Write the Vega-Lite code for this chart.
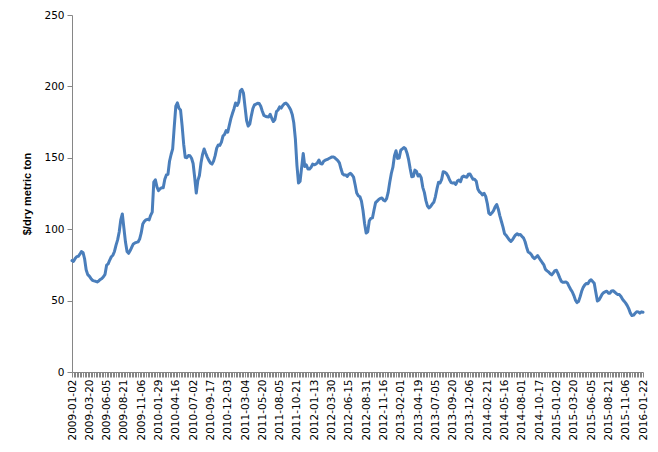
{
  "$schema": "https://vega.github.io/schema/vega-lite/v6.json",
  "autosize": "none",
  "width": 571,
  "height": 357,
  "padding": {"left": 72, "top": 15, "right": 15, "bottom": 80},
  "background": "white",
  "config": {"view": {"stroke": null}},
  "data": {"values": [
    {"d":"2009-01-02","v":78},{"d":"2009-01-09","v":77.5},{"d":"2009-01-16","v":79.5},{"d":"2009-01-23","v":80.8},{"d":"2009-01-30","v":81},
    {"d":"2009-02-06","v":82.5},{"d":"2009-02-13","v":84.3},{"d":"2009-02-20","v":83.7},{"d":"2009-02-27","v":79.3},{"d":"2009-03-06","v":71.6},
    {"d":"2009-03-13","v":68.2},{"d":"2009-03-20","v":67.1},{"d":"2009-03-27","v":65.5},{"d":"2009-04-03","v":64.2},{"d":"2009-04-10","v":63.8},
    {"d":"2009-04-17","v":63.5},{"d":"2009-04-24","v":63.1},{"d":"2009-05-01","v":63.8},{"d":"2009-05-08","v":64.8},{"d":"2009-05-15","v":65.5},
    {"d":"2009-05-22","v":66.7},{"d":"2009-05-29","v":68.4},{"d":"2009-06-05","v":74.8},{"d":"2009-06-12","v":75.7},{"d":"2009-06-19","v":78.4},
    {"d":"2009-06-26","v":80.7},{"d":"2009-07-03","v":81.8},{"d":"2009-07-10","v":84.4},{"d":"2009-07-17","v":88.8},{"d":"2009-07-24","v":92.5},
    {"d":"2009-07-31","v":98},{"d":"2009-08-07","v":106.5},{"d":"2009-08-14","v":110.7},{"d":"2009-08-21","v":100.7},{"d":"2009-08-28","v":91},
    {"d":"2009-09-04","v":84.4},{"d":"2009-09-11","v":83.1},{"d":"2009-09-18","v":85},{"d":"2009-09-25","v":87.4},{"d":"2009-10-02","v":89.7},
    {"d":"2009-10-09","v":90.4},{"d":"2009-10-16","v":90.8},{"d":"2009-10-23","v":91.1},{"d":"2009-10-30","v":93.1},{"d":"2009-11-06","v":97.4},
    {"d":"2009-11-13","v":103.7},{"d":"2009-11-20","v":105.5},{"d":"2009-11-27","v":106.5},{"d":"2009-12-04","v":106.9},{"d":"2009-12-11","v":106.5},
    {"d":"2009-12-18","v":109.7},{"d":"2009-12-25","v":112},{"d":"2010-01-08","v":133},{"d":"2010-01-15","v":134.6},{"d":"2010-01-22","v":129.6},
    {"d":"2010-01-29","v":127},{"d":"2010-02-05","v":128.3},{"d":"2010-02-12","v":129},{"d":"2010-02-19","v":129},{"d":"2010-02-26","v":135},
    {"d":"2010-03-05","v":138},{"d":"2010-03-12","v":138.4},{"d":"2010-03-19","v":147.6},{"d":"2010-03-26","v":152.3},{"d":"2010-04-02","v":156.3},
    {"d":"2010-04-09","v":171.7},{"d":"2010-04-16","v":186.2},{"d":"2010-04-23","v":188.5},{"d":"2010-04-30","v":184.7},{"d":"2010-05-07","v":183.5},
    {"d":"2010-05-14","v":172.6},{"d":"2010-05-21","v":159.5},{"d":"2010-05-28","v":150.3},{"d":"2010-06-04","v":150.1},{"d":"2010-06-11","v":151.6},
    {"d":"2010-06-18","v":151.4},{"d":"2010-06-25","v":149.7},{"d":"2010-07-02","v":146},{"d":"2010-07-09","v":136.2},{"d":"2010-07-16","v":125.3},
    {"d":"2010-07-23","v":134},{"d":"2010-07-30","v":137.6},{"d":"2010-08-06","v":146.4},{"d":"2010-08-13","v":152.4},{"d":"2010-08-20","v":156.2},
    {"d":"2010-08-27","v":153.2},{"d":"2010-09-03","v":150.5},{"d":"2010-09-10","v":148.2},{"d":"2010-09-17","v":146.4},{"d":"2010-09-24","v":145.6},
    {"d":"2010-10-01","v":147.7},{"d":"2010-10-08","v":151.5},{"d":"2010-10-15","v":156.8},{"d":"2010-10-22","v":159},{"d":"2010-10-29","v":158.7},
    {"d":"2010-11-05","v":161},{"d":"2010-11-12","v":165.3},{"d":"2010-11-19","v":166.4},{"d":"2010-11-26","v":169.1},{"d":"2010-12-03","v":167.9},
    {"d":"2010-12-10","v":172.7},{"d":"2010-12-17","v":177.4},{"d":"2011-01-07","v":181},{"d":"2011-01-14","v":184.4},{"d":"2011-01-21","v":188.4},
    {"d":"2011-01-28","v":186.6},{"d":"2011-02-04","v":189},{"d":"2011-02-11","v":196.8},{"d":"2011-02-18","v":198},{"d":"2011-02-25","v":195.4},
    {"d":"2011-03-04","v":185.7},{"d":"2011-03-11","v":176.1},{"d":"2011-03-18","v":172.2},{"d":"2011-03-25","v":173.6},{"d":"2011-04-01","v":179.4},
    {"d":"2011-04-08","v":184.5},{"d":"2011-04-15","v":187.1},{"d":"2011-04-22","v":187.6},{"d":"2011-04-29","v":188.2},{"d":"2011-05-06","v":188},
    {"d":"2011-05-13","v":186.1},{"d":"2011-05-20","v":182.6},{"d":"2011-05-27","v":179.7},{"d":"2011-06-03","v":179.1},{"d":"2011-06-10","v":178.7},
    {"d":"2011-06-17","v":178.6},{"d":"2011-06-24","v":180.4},{"d":"2011-07-01","v":177.7},{"d":"2011-07-08","v":175.4},{"d":"2011-07-15","v":176.8},
    {"d":"2011-07-22","v":182.4},{"d":"2011-07-29","v":183.5},{"d":"2011-08-05","v":185.7},{"d":"2011-08-12","v":184.8},{"d":"2011-08-19","v":186.7},
    {"d":"2011-08-26","v":187.9},{"d":"2011-09-02","v":188.3},{"d":"2011-09-09","v":187.3},{"d":"2011-09-16","v":185.6},{"d":"2011-09-23","v":183.6},
    {"d":"2011-09-30","v":180.4},{"d":"2011-10-07","v":174.5},{"d":"2011-10-14","v":163.2},{"d":"2011-10-21","v":144.7},{"d":"2011-10-28","v":132.3},
    {"d":"2011-11-04","v":133.6},{"d":"2011-11-11","v":143.3},{"d":"2011-11-18","v":153},{"d":"2011-11-25","v":143.9},{"d":"2011-12-02","v":145},
    {"d":"2011-12-09","v":142.1},{"d":"2011-12-16","v":142.1},{"d":"2011-12-23","v":143.4},{"d":"2012-01-06","v":145.6},{"d":"2012-01-13","v":145.1},
    {"d":"2012-01-20","v":145.6},{"d":"2012-01-27","v":146.5},{"d":"2012-02-03","v":148.4},{"d":"2012-02-10","v":145.9},{"d":"2012-02-17","v":145.6},
    {"d":"2012-02-24","v":147.6},{"d":"2012-03-02","v":148.3},{"d":"2012-03-09","v":148.8},{"d":"2012-03-16","v":149.3},{"d":"2012-03-23","v":149.9},
    {"d":"2012-03-30","v":150.5},{"d":"2012-04-06","v":150.6},{"d":"2012-04-13","v":150.1},{"d":"2012-04-20","v":149},{"d":"2012-04-27","v":148},
    {"d":"2012-05-04","v":146.4},{"d":"2012-05-11","v":142.3},{"d":"2012-05-18","v":138.8},{"d":"2012-05-25","v":138},{"d":"2012-06-01","v":138},
    {"d":"2012-06-08","v":136.9},{"d":"2012-06-15","v":138.5},{"d":"2012-06-22","v":139.1},{"d":"2012-06-29","v":138},{"d":"2012-07-06","v":136.5},
    {"d":"2012-07-13","v":131.1},{"d":"2012-07-20","v":125.3},{"d":"2012-07-27","v":123.5},{"d":"2012-08-03","v":122.8},{"d":"2012-08-10","v":119.8},
    {"d":"2012-08-17","v":113.1},{"d":"2012-08-24","v":104},{"d":"2012-08-31","v":97.3},{"d":"2012-09-07","v":98.2},{"d":"2012-09-14","v":105.9},
    {"d":"2012-09-21","v":107.6},{"d":"2012-09-28","v":107.9},{"d":"2012-10-05","v":113.5},{"d":"2012-10-12","v":118.6},{"d":"2012-10-19","v":119.7},
    {"d":"2012-10-26","v":120.8},{"d":"2012-11-02","v":121.6},{"d":"2012-11-09","v":121.9},{"d":"2012-11-16","v":120.3},{"d":"2012-11-23","v":119.8},
    {"d":"2012-11-30","v":121.4},{"d":"2012-12-07","v":125.8},{"d":"2012-12-14","v":132.9},{"d":"2012-12-21","v":139},{"d":"2012-12-28","v":143.4},
    {"d":"2013-01-04","v":151.4},{"d":"2013-01-11","v":154.9},{"d":"2013-01-18","v":149.6},{"d":"2013-01-25","v":149.9},{"d":"2013-02-01","v":155.3},
    {"d":"2013-02-08","v":156.2},{"d":"2013-02-15","v":157.2},{"d":"2013-02-22","v":156.4},{"d":"2013-03-01","v":153.2},{"d":"2013-03-08","v":148.7},
    {"d":"2013-03-15","v":142.3},{"d":"2013-03-22","v":136.7},{"d":"2013-03-29","v":137},{"d":"2013-04-05","v":141.4},{"d":"2013-04-12","v":140.5},
    {"d":"2013-04-19","v":137.2},{"d":"2013-04-26","v":138.2},{"d":"2013-05-03","v":136.1},{"d":"2013-05-10","v":129.3},{"d":"2013-05-17","v":125.8},
    {"d":"2013-05-24","v":120},{"d":"2013-05-31","v":116.2},{"d":"2013-06-07","v":114.9},{"d":"2013-06-14","v":116},{"d":"2013-06-21","v":117.6},
    {"d":"2013-06-28","v":118.8},{"d":"2013-07-05","v":122.7},{"d":"2013-07-12","v":128.2},{"d":"2013-07-19","v":132.8},{"d":"2013-07-26","v":132.4},
    {"d":"2013-08-02","v":134.9},{"d":"2013-08-09","v":140.3},{"d":"2013-08-16","v":140},{"d":"2013-08-23","v":139.1},{"d":"2013-08-30","v":137.3},
    {"d":"2013-09-06","v":134.6},{"d":"2013-09-13","v":132.6},{"d":"2013-09-20","v":132.3},{"d":"2013-09-27","v":132.6},{"d":"2013-10-04","v":131.4},
    {"d":"2013-10-11","v":133.7},{"d":"2013-10-18","v":134.4},{"d":"2013-10-25","v":133.3},{"d":"2013-11-01","v":136.5},{"d":"2013-11-08","v":137.2},
    {"d":"2013-11-15","v":136.7},{"d":"2013-11-22","v":136.4},{"d":"2013-11-29","v":138.5},{"d":"2013-12-06","v":138.7},{"d":"2013-12-13","v":136.7},
    {"d":"2013-12-20","v":134.9},{"d":"2013-12-27","v":134.9},{"d":"2014-01-03","v":133.6},{"d":"2014-01-10","v":128.2},{"d":"2014-01-17","v":126.2},
    {"d":"2014-01-24","v":125.3},{"d":"2014-01-31","v":124},{"d":"2014-02-07","v":125.1},{"d":"2014-02-14","v":123},{"d":"2014-02-21","v":118.1},
    {"d":"2014-02-28","v":111.2},{"d":"2014-03-07","v":110.3},{"d":"2014-03-14","v":111.5},{"d":"2014-03-21","v":113},{"d":"2014-03-28","v":115.6},
    {"d":"2014-04-04","v":117.3},{"d":"2014-04-11","v":114},{"d":"2014-04-25","v":109.4},{"d":"2014-05-02","v":105.4},{"d":"2014-05-09","v":101.5},
    {"d":"2014-05-16","v":96.8},{"d":"2014-05-23","v":95.7},{"d":"2014-05-30","v":94.1},{"d":"2014-06-06","v":92.5},{"d":"2014-06-13","v":91.4},
    {"d":"2014-06-20","v":92.6},{"d":"2014-06-27","v":94.4},{"d":"2014-07-04","v":96},{"d":"2014-07-11","v":96.8},{"d":"2014-07-18","v":96},
    {"d":"2014-07-25","v":96.3},{"d":"2014-08-01","v":95},{"d":"2014-08-08","v":94},{"d":"2014-08-15","v":91.4},{"d":"2014-08-22","v":87.4},
    {"d":"2014-08-29","v":84},{"d":"2014-09-05","v":83.4},{"d":"2014-09-12","v":82.3},{"d":"2014-09-19","v":80.4},{"d":"2014-09-26","v":79.4},
    {"d":"2014-10-03","v":80.4},{"d":"2014-10-10","v":81.5},{"d":"2014-10-17","v":79.8},{"d":"2014-10-24","v":78.1},{"d":"2014-10-31","v":76.5},
    {"d":"2014-11-07","v":75},{"d":"2014-11-14","v":71.8},{"d":"2014-11-21","v":70.8},{"d":"2014-11-28","v":70},{"d":"2014-12-05","v":68.8},
    {"d":"2014-12-12","v":68},{"d":"2014-12-19","v":69.4},{"d":"2014-12-26","v":71},{"d":"2015-01-02","v":71.2},{"d":"2015-01-09","v":68.9},
    {"d":"2015-01-16","v":66.1},{"d":"2015-01-23","v":63.6},{"d":"2015-01-30","v":62.8},{"d":"2015-02-06","v":62.8},{"d":"2015-02-13","v":63.1},
    {"d":"2015-02-20","v":62.2},{"d":"2015-02-27","v":60},{"d":"2015-03-06","v":57.9},{"d":"2015-03-13","v":56.2},{"d":"2015-03-20","v":53.7},
    {"d":"2015-03-27","v":50.5},{"d":"2015-04-03","v":48.6},{"d":"2015-04-10","v":49.3},{"d":"2015-04-17","v":52.6},{"d":"2015-04-24","v":56.5},
    {"d":"2015-05-01","v":59.3},{"d":"2015-05-08","v":61},{"d":"2015-05-15","v":62},{"d":"2015-05-22","v":61.8},{"d":"2015-05-29","v":63.7},
    {"d":"2015-06-05","v":64.6},{"d":"2015-06-12","v":63.4},{"d":"2015-06-19","v":62.2},{"d":"2015-06-26","v":55.9},{"d":"2015-07-03","v":49.7},
    {"d":"2015-07-10","v":50.4},{"d":"2015-07-17","v":52.4},{"d":"2015-07-24","v":54.4},{"d":"2015-07-31","v":55.6},{"d":"2015-08-07","v":56.2},
    {"d":"2015-08-14","v":56.6},{"d":"2015-08-21","v":55.2},{"d":"2015-08-28","v":55.2},{"d":"2015-09-04","v":56.8},{"d":"2015-09-11","v":56.9},
    {"d":"2015-09-18","v":56},{"d":"2015-09-25","v":55},{"d":"2015-10-02","v":54.2},{"d":"2015-10-09","v":54.2},{"d":"2015-10-16","v":52.9},
    {"d":"2015-10-23","v":50.9},{"d":"2015-10-30","v":49.6},{"d":"2015-11-06","v":48.2},{"d":"2015-11-13","v":46.5},{"d":"2015-11-20","v":44.2},
    {"d":"2015-11-27","v":41.2},{"d":"2015-12-04","v":39.5},{"d":"2015-12-11","v":39.8},{"d":"2015-12-18","v":41.1},{"d":"2015-12-25","v":42.2},
    {"d":"2016-01-01","v":42.1},{"d":"2016-01-08","v":41.2},{"d":"2016-01-15","v":42.1},{"d":"2016-01-22","v":41.8}
  ]},
  "mark": {"type": "line", "color": "#4a7ebb", "strokeWidth": 3, "strokeJoin": "round", "strokeCap": "round"},
  "encoding": {
    "x": {
      "field": "d", "type": "ordinal", "sort": "ascending",
      "scale": {"type": "point", "padding": 0},
      "axis": {
        "title": null,
        "labelAngle": 270,
        "labelOverlap": false,
        "labelExpr": "indexof(['2009-01-02','2009-03-20','2009-06-05','2009-08-21','2009-11-06','2010-01-29','2010-04-16','2010-07-02','2010-09-17','2010-12-03','2011-03-04','2011-05-20','2011-08-05','2011-10-21','2012-01-13','2012-03-30','2012-06-15','2012-08-31','2012-11-16','2013-02-01','2013-04-19','2013-07-05','2013-09-20','2013-12-06','2014-02-21','2014-05-16','2014-08-01','2014-10-17','2015-01-02','2015-03-20','2015-06-05','2015-08-21','2015-11-06','2016-01-22'], datum.value) >= 0 ? datum.value : ''",
        "labelFont": "DejaVu Sans", "labelFontSize": 10.5, "labelColor": "#000000",
        "labelPadding": 2,
        "domainColor": "#868686", "tickColor": "#868686", "tickSize": 5, "tickWidth": 1,
        "grid": false
      }
    },
    "y": {
      "field": "v", "type": "quantitative",
      "scale": {"domain": [0, 250], "nice": false, "zero": true},
      "axis": {
        "title": "$/dry metric ton",
        "titleFont": "Liberation Sans", "titleFontSize": 11, "titleFontWeight": "bold", "titleColor": "#000000",
        "titlePadding": 11,
        "values": [0, 50, 100, 150, 200, 250],
        "labelFont": "DejaVu Sans", "labelFontSize": 10.5, "labelColor": "#000000",
        "labelPadding": 3,
        "domainColor": "#868686", "tickColor": "#868686", "tickSize": 5,
        "grid": false
      }
    }
  }
}
